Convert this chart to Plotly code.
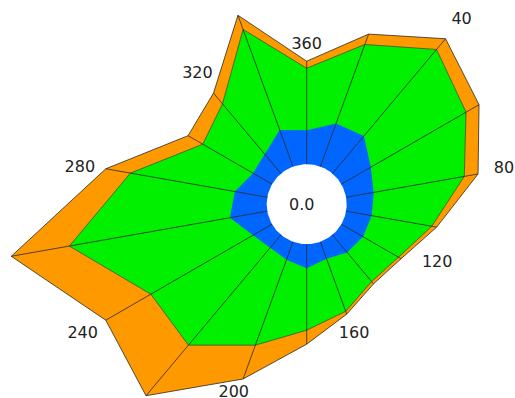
import math
import plotly.graph_objects as go

# Direction bins (degrees, clockwise from north)
directions = [0, 20, 40, 60, 80, 100, 120, 140, 160, 180,
              200, 220, 240, 260, 280, 300, 320, 340]

# Stacked band values per direction
inner_band = [3.4, 4.6, 4.9, 3.4, 2.8, 2.6, 2.5, 2.3, 1.8, 2.4,
              1.9, 1.7, 2.2, 3.8, 3.3, 2.2, 2.5, 3.9]
middle_band = [6.2, 8.4, 11.3, 11.0, 9.2, 6.1, 4.1, 3.8, 5.6, 6.2,
               9.1, 12.7, 11.8, 16.3, 10.6, 5.8, 6.6, 10.7]
outer_band = [0.7, 1.1, 1.4, 1.5, 1.4, 0.5, 0.3, 0.3, 0.3, 1.4,
              3.6, 6.6, 5.2, 5.9, 2.5, 1.7, 1.4, 1.5]

# Direction labels
label_dirs = [40, 80, 120, 160, 200, 240, 280, 320, 360]
label_texts = ["40", "80", "120", "160", "200", "240", "280", "320", "360"]
center_label = "0.0"

ORANGE = "#FF9900"
GREEN = "#00F000"
BLUE = "#0066FF"
EDGE = "#2a2a2a"
TEXT = "#222222"
FONT = "DejaVu Sans"

W, H = 515, 398
CX, CY = 306.7, 204.2   # rose centre in px, from the top-left corner
PX = 10.0               # pixels per data unit
HOLE = 4.0              # radius of the empty centre, in data units

# small pixel nudges (right, down) for labels crowded by the outline
LABEL_NUDGE = {120: (13, -9), 200: (-2, -6), 280: (0, 4)}

# cumulative stacks
lvl1 = inner_band
lvl2 = [a + b for a, b in zip(inner_band, middle_band)]
lvl3 = [a + b for a, b in zip(lvl2, outer_band)]


def to_xy(r_vals, deg_vals):
    """Polar (value, bearing) -> plane coordinates, value 0 on the hole edge."""
    xs, ys = [], []
    for r, d in zip(r_vals, deg_vals):
        if r is None:
            xs.append(None)
            ys.append(None)
            continue
        a = math.radians(d)
        xs.append((HOLE + r) * math.sin(a))
        ys.append((HOLE + r) * math.cos(a))
    return xs, ys


def closed(seq):
    return list(seq) + [seq[0]]


fig = go.Figure()

# filled stack layers, outermost first
for level, fillc, lc, lw in [(lvl3, ORANGE, EDGE, 0.8),
                             (lvl2, GREEN, EDGE, 0.6),
                             (lvl1, BLUE, BLUE, 0)]:
    x, y = to_xy(closed(level), closed(directions))
    fig.add_trace(go.Scatter(x=x, y=y, mode="lines", fill="toself",
                             fillcolor=fillc, line=dict(color=lc, width=lw),
                             hoverinfo="skip"))

# white centre disc
ring = list(range(0, 361, 2))
x, y = to_xy([0] * len(ring), ring)
fig.add_trace(go.Scatter(x=x, y=y, mode="lines", fill="toself",
                         fillcolor="white", line=dict(color="white", width=0),
                         hoverinfo="skip"))

# radial spokes from the hole edge to the outer boundary
sr, st = [], []
for d, top in zip(directions, lvl3):
    sr += [0, top, None]
    st += [d, d, None]
x, y = to_xy(sr, st)
fig.add_trace(go.Scatter(x=x, y=y, mode="lines",
                         line=dict(color=EDGE, width=0.8), hoverinfo="skip"))

# direction labels just outside the outer boundary
total_at = dict(zip(directions, lvl3))
lab_r = []
for d in label_dirs:
    a = math.radians(d % 360)
    pad_px = 10 + 15.5 * abs(math.sin(a)) + 6.5 * abs(math.cos(a))
    lab_r.append(total_at[d % 360] + pad_px / PX)
lx, ly = to_xy(lab_r, label_dirs)
for i, d in enumerate(label_dirs):
    nx, ny = LABEL_NUDGE.get(d, (0, 0))
    lx[i] += nx / PX
    ly[i] -= ny / PX
fig.add_trace(go.Scatter(x=lx, y=ly, mode="text", text=label_texts,
                         textposition="middle center",
                         textfont=dict(family=FONT, size=16, color=TEXT),
                         cliponaxis=False, hoverinfo="skip"))

# centre value
fig.add_trace(go.Scatter(x=[-0.5], y=[-0.2], mode="text", text=[center_label],
                         textposition="middle center",
                         textfont=dict(family=FONT, size=16, color=TEXT),
                         hoverinfo="skip"))

fig.update_layout(
    width=W, height=H,
    margin=dict(l=0, r=0, t=0, b=0),
    paper_bgcolor="white",
    plot_bgcolor="white",
    showlegend=False,
    xaxis=dict(range=[-CX / PX, (W - CX) / PX], visible=False,
               showgrid=False, zeroline=False, fixedrange=True),
    yaxis=dict(range=[-(H - CY) / PX, CY / PX], visible=False,
               showgrid=False, zeroline=False, fixedrange=True),
)

fig.write_html("out.html")
